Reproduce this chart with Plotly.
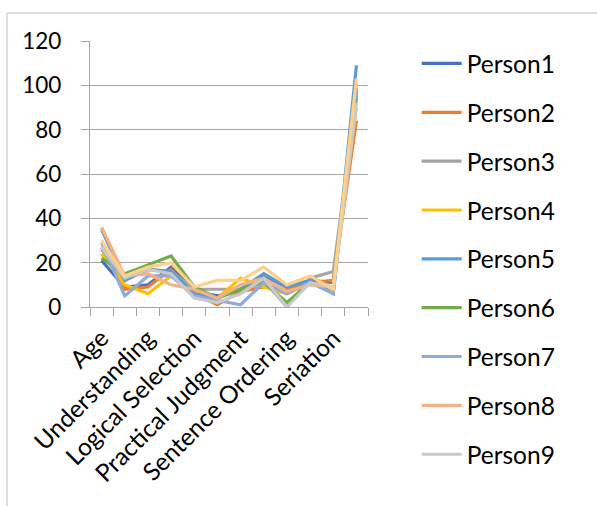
import plotly.graph_objects as go

# Test sections (12 columns, every other one labelled on the axis)
label_positions = [0, 2, 4, 6, 8, 10]
labels = ["Age", "Understanding", "Logical Selection",
          "Practical Judgment", "Sentence Ordering", "Seriation"]
n_cols = 12

person1 = [21, 9, 10, 18, 7, 5, 8, 14, 9, 12, 11, 98]
person2 = [27, 8, 9, 17, 6, 1, 7, 9, 8, 11, 12, 84]
person3 = [26, 12, 17, 16, 8, 8, 8, 12, 0, 13, 16, 94]
person4 = [24, 10, 6, 14, 7, 4, 13, 9, 6, 11, 8, 101]
person5 = [35, 12, 17, 16, 6, 4, 8, 15, 9, 12, 6, 109]
person6 = [22, 15, 19, 23, 9, 4, 8, 11, 2, 11, 9, 96]
person7 = [29, 5, 14, 14, 5, 3, 1, 11, 6, 11, 6, 99]
person8 = [36, 14, 15, 10, 8, 4, 10, 13, 7, 10, 9, 90]
person9 = [27, 13, 17, 15, 4, 2, 6, 13, 0, 11, 9, 92]
person10 = [30, 14, 18, 20, 9, 12, 12, 18, 10, 14, 8, 103]

series = [
    ("Person1", person1, "#4472C4", True),
    ("Person2", person2, "#ED7D31", True),
    ("Person3", person3, "#A5A5A5", True),
    ("Person4", person4, "#FFC000", True),
    ("Person5", person5, "#5B9BD5", True),
    ("Person6", person6, "#70AD47", True),
    ("Person7", person7, "#8FAADC", True),
    ("Person8", person8, "#F4B183", True),
    ("Person9", person9, "#C9C9C9", True),
    ("Person10", person10, "#FFD08A", False),
]

FONT = "Lato, 'Open Sans', sans-serif"
AXIS_GRAY = "#A6A6A6"

fig = go.Figure()
xs = list(range(n_cols))
for i, (name, vals, color, in_legend) in enumerate(series):
    fig.add_trace(go.Scatter(
        x=xs, y=vals, name=name, mode="lines",
        line=dict(color=color, width=3.2),
        showlegend=in_legend, legendgroup=f"g{i}",
    ))

fig.update_layout(
    width=597, height=506,
    margin=dict(l=90, r=229, t=41, b=199),
    paper_bgcolor="white", plot_bgcolor="white",
    font=dict(family=FONT, color="#000000", size=24),
    legend=dict(
        x=1.175, xanchor="left", y=1.0, yanchor="top",
        font=dict(size=24.5, color="#000000"),
        traceorder="grouped", tracegroupgap=14,
        bgcolor="rgba(0,0,0,0)", itemwidth=40,
        maxheight=490,
    ),
    xaxis=dict(
        range=[-0.5, n_cols - 0.5],
        tickmode="array", tickvals=label_positions, ticktext=labels,
        tickangle=-45, ticks="", showgrid=False,
        showline=True, linecolor=AXIS_GRAY, linewidth=1.3,
        tickfont=dict(size=24.5),
        ticklabelstandoff=6,
        minor=dict(tickvals=[v - 0.5 for v in range(n_cols + 1)],
                   ticks="outside", ticklen=8, tickcolor=AXIS_GRAY,
                   tickwidth=1.3, showgrid=False),
        zeroline=False,
    ),
    yaxis=dict(
        range=[0, 120], tickvals=[0, 20, 40, 60, 80, 100, 120],
        ticks="outside", ticklen=8, tickcolor=AXIS_GRAY, tickwidth=1.3,
        showgrid=True, gridcolor=AXIS_GRAY, gridwidth=1.3,
        showline=True, linecolor=AXIS_GRAY, linewidth=1.3,
        zeroline=False, tickfont=dict(size=22.5),
        ticklabelstandoff=15,
    ),
)

# Chart-area border
fig.add_shape(type="rect", xref="paper", yref="paper",
              x0=(7 - 90) / 278, x1=3, y0=-3, y1=(307 - 13) / 266,
              line=dict(color="#BFBFBF", width=1), layer="below")

fig.write_html("out.html")
